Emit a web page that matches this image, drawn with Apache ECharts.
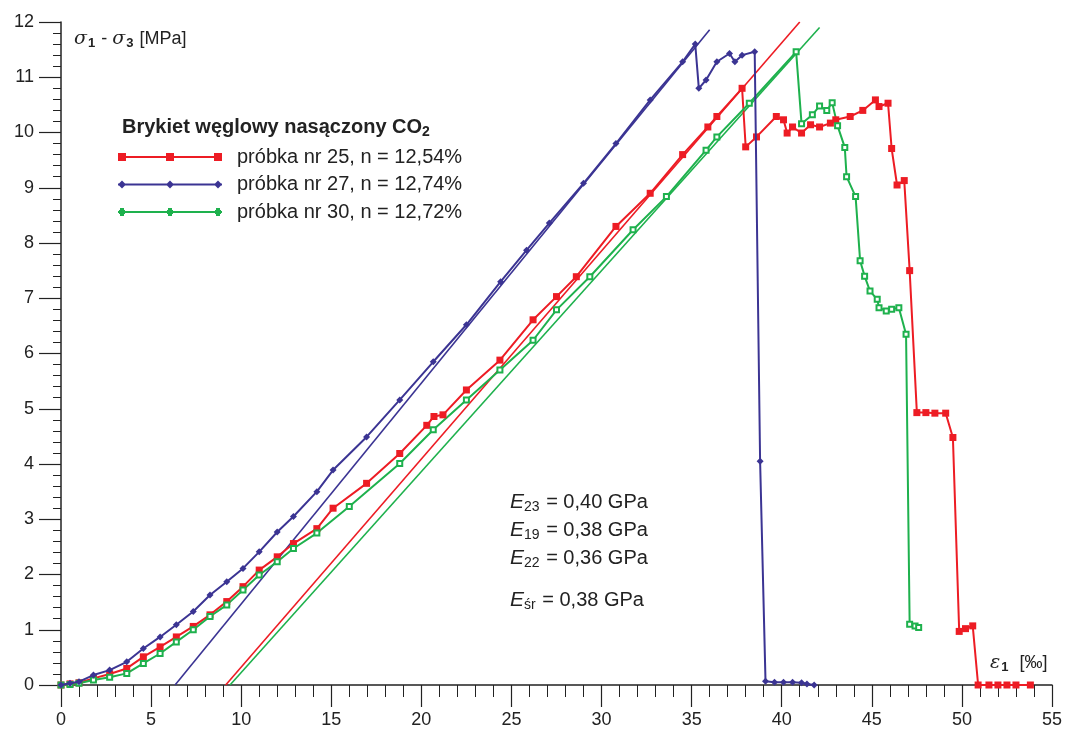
<!DOCTYPE html>
<html>
<head>
<meta charset="utf-8">
<title>Brykiet węglowy nasączony CO2</title>
<script src="https://cdn.jsdelivr.net/npm/echarts@6/dist/echarts.min.js"></script>
<style>
  html, body { margin: 0; padding: 0; background: #fff; }
  #chart { width: 1070px; height: 735px; }
</style>
</head>
<body>
<div id="chart"></div>
<script>
// [eps1 ‰, sigma1-sigma3 MPa]
var probka25 = [
  [0, 0], [0.5, 0.02], [1, 0.04], [1.8, 0.12], [2.7, 0.2], [3.65, 0.3], [4.57, 0.51], [5.5, 0.69],
  [6.4, 0.87], [7.34, 1.06], [8.27, 1.27], [9.2, 1.51], [10.1, 1.78], [11, 2.08], [12, 2.32],
  [12.9, 2.56], [14.2, 2.83], [15.1, 3.2], [16.96, 3.65], [18.8, 4.19], [20.3, 4.7], [20.7, 4.86],
  [21.2, 4.89], [22.5, 5.34], [24.36, 5.88], [26.2, 6.61], [27.5, 7.03], [28.6, 7.39], [30.8, 8.3],
  [32.7, 8.9], [34.5, 9.6], [35.9, 10.1], [36.4, 10.29], [37.8, 10.8], [38, 9.74], [38.6, 9.92],
  [39.7, 10.29], [40.1, 10.23], [40.3, 9.99], [40.6, 10.1], [41.1, 9.99], [41.6, 10.14], [42.1, 10.1],
  [42.7, 10.17], [43, 10.23], [43.8, 10.29], [44.5, 10.4], [45.2, 10.59], [45.4, 10.47], [45.9, 10.53],
  [46.1, 9.71], [46.4, 9.05], [46.8, 9.13], [47.1, 7.5], [47.5, 4.93], [48, 4.93], [48.5, 4.92],
  [49.1, 4.92], [49.5, 4.48], [49.85, 0.97], [50.2, 1.02], [50.6, 1.07], [50.9, 0], [51.5, 0],
  [52, 0], [52.5, 0], [53, 0], [53.8, 0]
];
var probka27 = [
  [0, 0], [0.5, 0.03], [1, 0.06], [1.8, 0.18], [2.7, 0.27], [3.65, 0.42], [4.57, 0.66], [5.5, 0.87],
  [6.4, 1.09], [7.34, 1.33], [8.27, 1.63], [9.2, 1.87], [10.1, 2.11], [11, 2.41], [12, 2.77],
  [12.9, 3.05], [14.2, 3.5], [15.1, 3.89], [16.96, 4.49], [18.8, 5.16], [20.66, 5.85], [22.5, 6.52],
  [24.4, 7.3], [25.84, 7.87], [27.1, 8.36], [29, 9.08], [30.8, 9.8], [32.7, 10.59], [34.5, 11.28],
  [35.2, 11.6], [35.4, 10.8], [35.8, 10.95], [36.4, 11.28], [37.1, 11.43], [37.4, 11.28], [37.8, 11.4],
  [38.5, 11.46], [38.8, 4.05], [39.1, 0.07], [39.6, 0.05], [40.1, 0.05], [40.6, 0.05], [41.1, 0.04],
  [41.4, 0.02], [41.8, 0]
];
var probka30 = [
  [0, 0], [0.5, 0.01], [1, 0.03], [1.8, 0.09], [2.7, 0.14], [3.65, 0.21], [4.57, 0.39], [5.5, 0.57],
  [6.4, 0.78], [7.34, 1], [8.27, 1.24], [9.2, 1.45], [10.1, 1.72], [11, 1.99], [12, 2.23],
  [12.9, 2.47], [14.2, 2.75], [16, 3.23], [18.8, 4.01], [20.66, 4.62], [22.5, 5.16], [24.36, 5.7],
  [26.2, 6.24], [27.5, 6.79], [29.35, 7.39], [31.75, 8.24], [33.6, 8.84], [35.8, 9.68], [36.4, 9.92],
  [38.2, 10.53], [40.8, 11.46], [41.1, 10.16], [41.7, 10.32], [42.1, 10.48], [42.5, 10.4], [42.8, 10.54],
  [43.1, 10.12], [43.5, 9.73], [43.6, 9.2], [44.1, 8.84], [44.35, 7.68], [44.6, 7.4], [44.9, 7.13],
  [45.3, 6.98], [45.4, 6.83], [45.8, 6.77], [46.1, 6.8], [46.5, 6.83], [46.9, 6.35], [47.1, 1.1],
  [47.4, 1.07], [47.6, 1.04]
];
// proste styczne do odcinka liniowego (moduł E)
var styczna25 = [[9.14, 0], [41, 12]];
var styczna27 = [[6.33, 0], [36, 11.86]];
var styczna30 = [[9.38, 0], [42.1, 11.9]];

var nazwy = ['próbka nr 25, n = 12,54%', 'próbka nr 27, n = 12,74%', 'próbka nr 30, n = 12,72%'];
var moduly = [['23', '0,40'], ['19', '0,38'], ['22', '0,36'], ['śr', '0,38']];

var RED = '#ed1c24', BLUE = '#3b3493', GREEN = '#1eb14d';
var FONT = '"Liberation Sans", Arial, sans-serif';

var chart = echarts.init(document.getElementById('chart'));

var subText = function (left, top, parts, size) {
  var sub = Math.round(size * 0.7);
  return {
    type: 'text', left: left, top: top, z: 10,
    style: {
      text: parts,
      fill: '#222',
      font: size + 'px ' + FONT,
      rich: {
        n: { fontSize: size, fontFamily: FONT, lineHeight: size + 2, fill: '#222' },
        g: { fontSize: size + 1, fontFamily: 'DejaVu Serif', fontStyle: 'italic', lineHeight: size + 2, fill: '#222' },
        e: { fontSize: size + 1, fontFamily: FONT, fontStyle: 'italic', lineHeight: size + 2, fill: '#222' },
        s: { fontSize: sub, fontFamily: FONT, lineHeight: sub + 1, padding: [size / 2, 1, 0, 0], fill: '#222' },
        sb: { fontSize: 13, fontFamily: FONT, fontWeight: 'bold', lineHeight: 14, padding: [9, 1, 0, 1], fill: '#222' }
      }
    }
  };
};

var grafika = [
  subText(74, 28, '{g|σ}{sb|1}{n| - }{g|σ}{sb|3}{n| [MPa]}', 18),
  subText(990, 652, '{g|ε}{sb|1}{n|  [‰]}', 18),
  {
    type: 'text', left: 122, top: 116, z: 10,
    style: {
      text: '{t|Brykiet węglowy nasączony CO}{d|2}',
      rich: {
        t: { fontSize: 20, fontWeight: 'bold', fontFamily: FONT, lineHeight: 22, fill: '#222' },
        d: { fontSize: 14, fontWeight: 'bold', fontFamily: FONT, lineHeight: 14, padding: [9, 0, 0, 0], fill: '#222' }
      }
    }
  }
];
var eTop = [490, 518, 546, 588];
moduly.forEach(function (m, i) {
  grafika.push(subText(510, eTop[i], '{e|E}{s|' + m[0] + '}{n| = ' + m[1] + ' GPa}', 20));
});

var ikona = {
  red: 'path://M0,3H104V5H0Z M0,0H8V8H0Z M48,0H56V8H48Z M96,0H104V8H96Z',
  blue: 'path://M0,3H104V5H0Z M0,4L4,0L8,4L4,8Z M48,4L52,0L56,4L52,8Z M96,4L100,0L104,4L100,8Z',
  green: 'path://M0,3H104V5H0Z M1,2H7V6H1Z M2,0H6V8H2Z M49,2H55V6H49Z M50,0H54V8H50Z M97,2H103V6H97Z M98,0H102V8H98Z'
};

var option = {
  animation: false,
  textStyle: { fontFamily: FONT },
  grid: { left: 61, right: 18, top: 22, bottom: 50 },
  legend: {
    orient: 'vertical',
    left: 118,
    top: 147,
    padding: 0,
    itemWidth: 104,
    itemHeight: 8,
    itemGap: 7.5,
    textStyle: { fontSize: 20, color: '#222', padding: [0, 0, 0, 10], fontFamily: FONT },
    data: [
      { name: nazwy[0], icon: ikona.red, itemStyle: { color: RED } },
      { name: nazwy[1], icon: ikona.blue, itemStyle: { color: BLUE } },
      { name: nazwy[2], icon: ikona.green, itemStyle: { color: GREEN } }
    ]
  },
  xAxis: {
    type: 'value', min: 0, max: 55, interval: 5,
    axisLine: { lineStyle: { color: '#222', width: 1.5 } },
    axisTick: { length: 22, lineStyle: { color: '#222', width: 1.2 } },
    minorTick: { show: true, splitNumber: 5, length: 12, lineStyle: { color: '#222', width: 1 } },
    axisLabel: { fontSize: 18, color: '#222', margin: 26 },
    splitLine: { show: false }
  },
  yAxis: {
    type: 'value', min: 0, max: 12, interval: 1,
    axisLine: { show: true, lineStyle: { color: '#222', width: 1.5 } },
    axisTick: { show: true, length: 22, lineStyle: { color: '#222', width: 1.2 } },
    minorTick: { show: true, splitNumber: 5, length: 8, lineStyle: { color: '#222', width: 1 } },
    axisLabel: { fontSize: 18, color: '#222', margin: 27 },
    splitLine: { show: false }
  },
  graphic: grafika,
  series: [
    { name: 'styczna 25', type: 'line', data: styczna25, symbol: 'none', silent: true,
      lineStyle: { color: RED, width: 1.6 }, z: 1 },
    { name: 'styczna 27', type: 'line', data: styczna27, symbol: 'none', silent: true,
      lineStyle: { color: BLUE, width: 1.6 }, z: 1 },
    { name: 'styczna 30', type: 'line', data: styczna30, symbol: 'none', silent: true,
      lineStyle: { color: GREEN, width: 1.6 }, z: 1 },
    { name: nazwy[0], type: 'line', data: probka25, symbol: 'rect', symbolSize: 7,
      itemStyle: { color: RED }, lineStyle: { color: RED, width: 2 }, z: 3 },
    { name: nazwy[1], type: 'line', data: probka27, symbol: 'diamond', symbolSize: 7,
      itemStyle: { color: BLUE }, lineStyle: { color: BLUE, width: 2 }, z: 4 },
    { name: nazwy[2], type: 'line', data: probka30, symbol: 'emptyRect', symbolSize: 5,
      itemStyle: { color: GREEN, borderWidth: 1.2 }, lineStyle: { color: GREEN, width: 2 }, z: 3 }
  ]
};

chart.setOption(option);
window.onresize = chart.resize;
</script>
</body>
</html>
